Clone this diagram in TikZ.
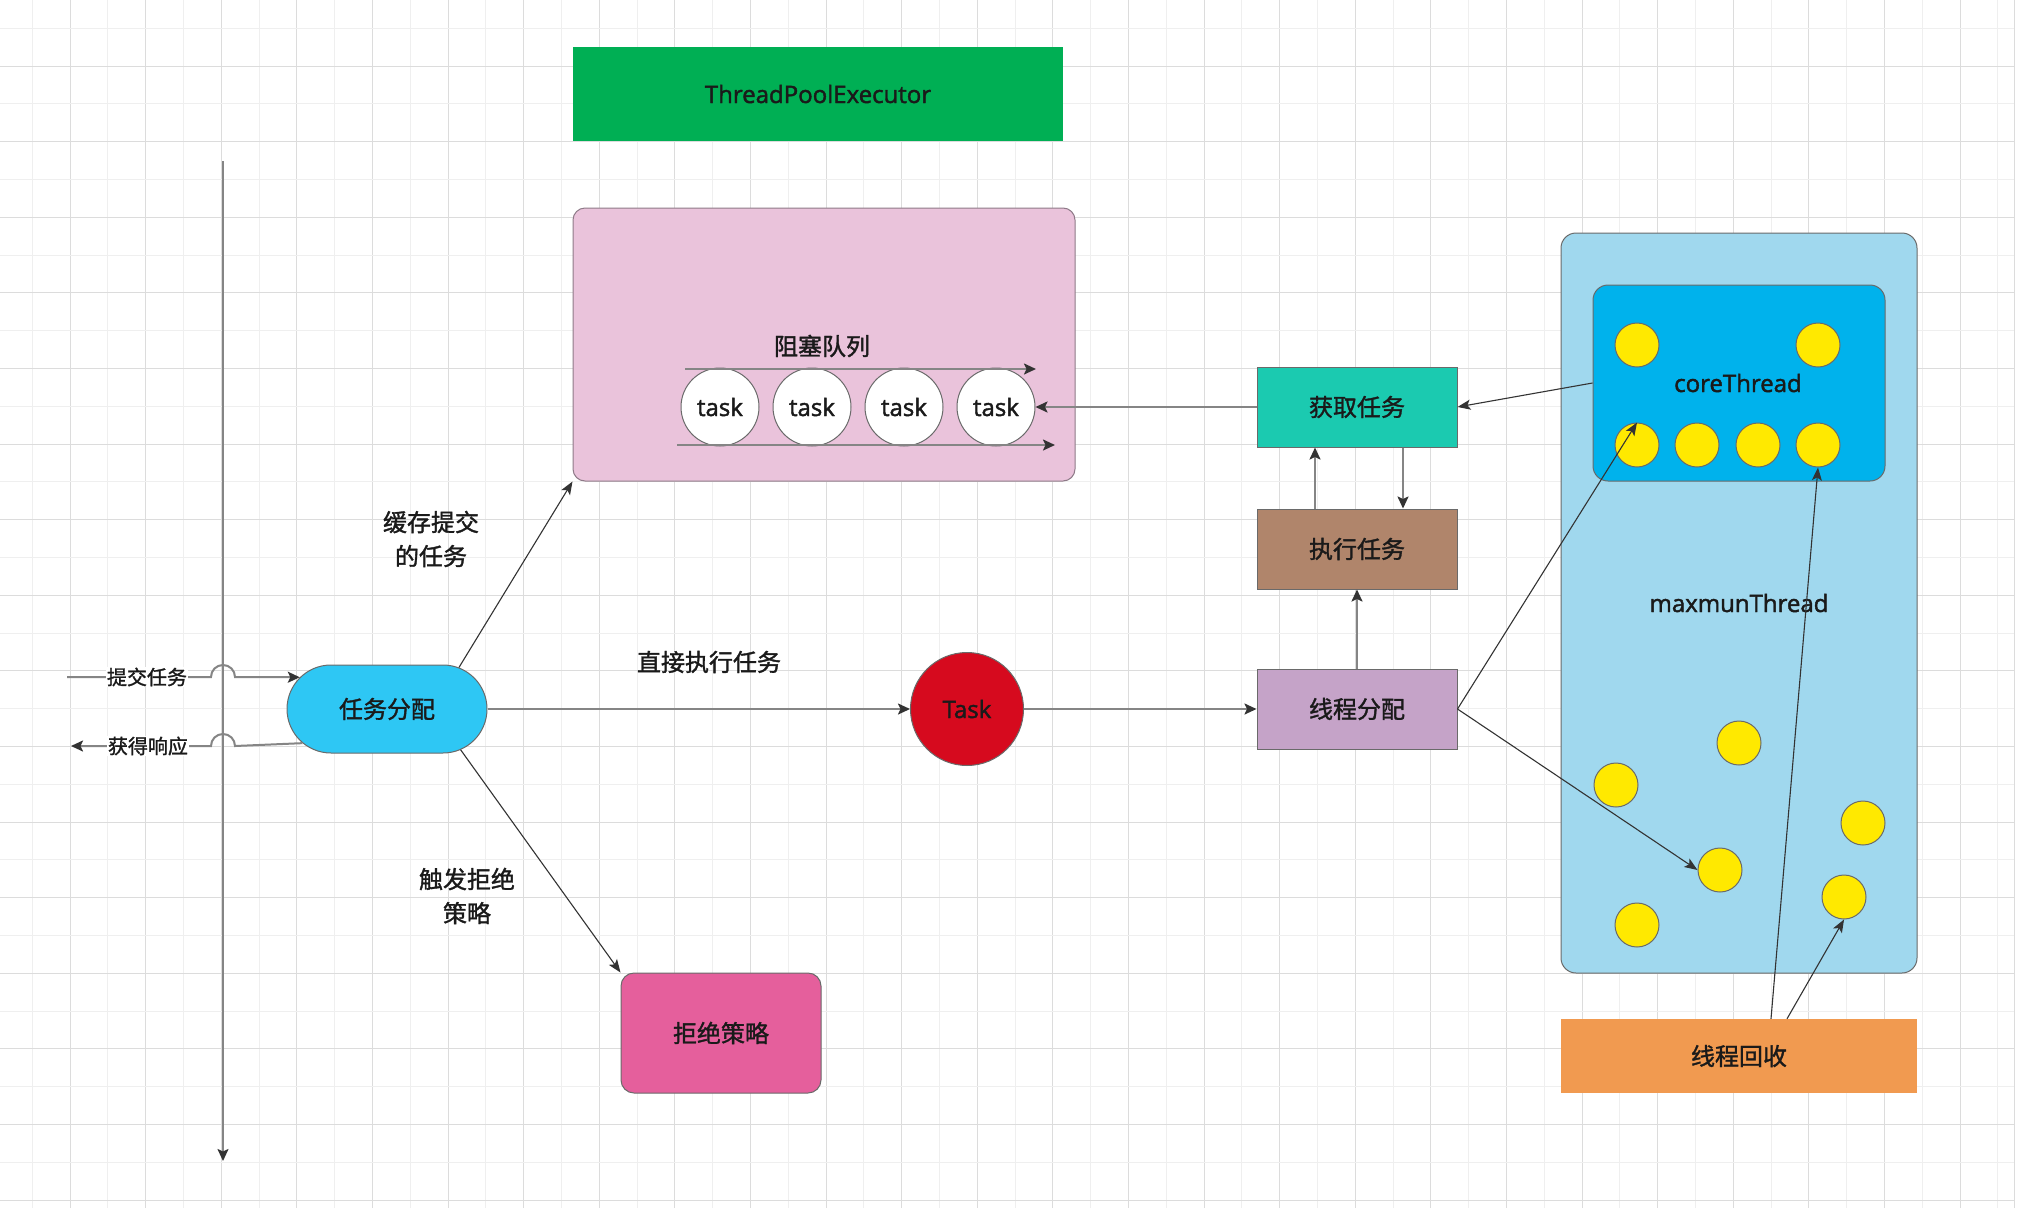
\documentclass[tikz,border=0pt]{standalone}
\usepackage{fontspec}
\setmainfont{Open Sans}[RawFeature={embolden=1.8}]
\newfontfamily\cjk{Noto Sans CJK SC}[RawFeature={embolden=1.4}]
\usetikzlibrary{arrows.meta,shapes.misc,calc}
\definecolor{txt}{HTML}{1A1A1A}
\definecolor{gridl}{HTML}{EFEFEF}
\definecolor{gridd}{HTML}{DCDCDC}
\definecolor{cgreen}{HTML}{00AF54}
\definecolor{cqueue}{HTML}{EAC3DB}
\definecolor{cqborder}{HTML}{8E7A88}
\definecolor{cteal}{HTML}{1BCAB0}
\definecolor{cbrown}{HTML}{B0856B}
\definecolor{clilac}{HTML}{C5A3C8}
\definecolor{cred}{HTML}{D60A1E}
\definecolor{cdist}{HTML}{2EC7F4}
\definecolor{creject}{HTML}{E55F9C}
\definecolor{cmax}{HTML}{A0D8EE}
\definecolor{ccore}{HTML}{00B2EC}
\definecolor{cyellow}{HTML}{FFE900}
\definecolor{corange}{HTML}{F19A50}
\definecolor{cborder}{HTML}{6A6A6A}
\definecolor{cgline}{HTML}{858585}
\definecolor{cdark}{HTML}{333333}
\begin{document}
\begin{tikzpicture}[x=1pt,y=-1pt,
  every node/.style={font=\fontsize{24}{30}\selectfont, text=txt},
  zh/.style={font=\cjk\fontsize{24}{30}\selectfont},
  zhs/.style={font=\cjk\fontsize{20}{24}\selectfont},
  box/.style={draw=cborder, line width=1pt, minimum width=200pt, minimum height=80pt, inner sep=0pt},
  ball/.style={circle, draw=cborder, line width=1pt, fill=cyellow, minimum size=44pt, inner sep=0pt},
  taskc/.style={circle, draw=cborder, line width=1pt, fill=white, minimum size=78pt, inner sep=0pt},
  garrow/.style={draw=cgline, line width=2pt, -{Stealth[length=12pt,width=11pt,inset=2.5pt,color=cdark]}},
  tarrow/.style={draw=cdark, line width=1.1pt, -{Stealth[length=13pt,width=10pt,inset=3pt]}},
  gline/.style={draw=cgline, line width=2pt}
]
\useasboundingbox (0,0) rectangle (2038,1208);
\fill[white] (0,0) rectangle (2038,1208);
% grid
\foreach \i in {0,...,52}{
  \pgfmathsetmacro\xx{32.2+37.8*\i}
  \ifodd\i \draw[gridd, line width=1pt] (\xx,0) -- (\xx,1208);
  \else \draw[gridl, line width=1pt] (\xx,0) -- (\xx,1208); \fi
}
\foreach \j in {0,...,31}{
  \pgfmathsetmacro\yy{28.2+37.8*\j}
  \ifodd\j \draw[gridd, line width=1pt] (0,\yy) -- (2014,\yy);
  \else \draw[gridl, line width=1pt] (0,\yy) -- (2014,\yy); \fi
}
\draw[gridd, line width=1pt] (2014,0) -- (2014,1208);

% title
\node[fill=cgreen, minimum width=490pt, minimum height=94pt, inner sep=0pt] (tpe) at (818,94) {ThreadPoolExecutor};

% blocking queue
\node[draw=cqborder, line width=1pt, fill=cqueue, rounded corners=12pt, minimum width=502pt, minimum height=273pt] (queue) at (824,344.5) {};
\node[zh] (qlabel) at (822,346) {阻塞队列};
\node[taskc] (t1) at (720,407) {task};
\node[taskc] (t2) at (812,407) {task};
\node[taskc] (t3) at (904,407) {task};
\node[taskc] (t4) at (996,407) {task};
\coordinate (qa1) at (685,369);
\coordinate (qa2) at (1036,369);
\coordinate (qb1) at (677,445);
\coordinate (qb2) at (1055,445);

% middle boxes
\node[box, zh, fill=cteal] (get) at (1357,407) {获取任务};
\node[box, zh, fill=cbrown] (exec) at (1357,549) {执行任务};
\node[box, zh, fill=clilac] (assign) at (1357,709) {线程分配};
\node[circle, draw=cborder, line width=1pt, fill=cred, minimum size=113pt, inner sep=0pt] (task) at (967,709) {Task};

% dispatcher
\node[rounded rectangle, draw=cborder, line width=1pt, fill=cdist, minimum width=200pt, minimum height=88pt, inner sep=0pt, zh] (dist) at (387,709) {任务分配};
\node[draw=cborder, line width=1pt, fill=creject, rounded corners=13pt, minimum width=200pt, minimum height=120pt, inner sep=0pt, zh] (reject) at (721,1033) {拒绝策略};

% thread area
\node[draw=cborder, line width=1pt, fill=cmax, rounded corners=15pt, minimum width=356pt, minimum height=740pt, inner sep=0pt] (maxbox) at (1739,603) {};
\node[draw=cborder, line width=1pt, fill=ccore, rounded corners=15pt, minimum width=292pt, minimum height=196pt, inner sep=0pt] (core) at (1739,383) {};
\node (corelabel) at (1738,383) {coreThread};
\node (maxlabel) at (1739,603) {maxmunThread};
\node[ball] (cc1) at (1637,345) {};
\node[ball] (cc2) at (1818,345) {};
\node[ball] (cb1) at (1637,445) {};
\node[ball] (cb2) at (1697,445) {};
\node[ball] (cb3) at (1758,445) {};
\node[ball] (cb4) at (1818,445) {};
\node[ball] (m1) at (1739,743) {};
\node[ball] (m2) at (1616,785) {};
\node[ball] (m3) at (1863,823) {};
\node[ball] (m4) at (1720,870) {};
\node[ball] (m5) at (1844,897) {};
\node[ball] (m6) at (1637,925) {};
\node[fill=corange, minimum width=356pt, minimum height=74pt, inner sep=0pt, zh] (recycle) at (1739,1056) {线程回收};

% axis
\coordinate (axtop) at (223,161);
\coordinate (axbot) at (223,1161);
\draw[garrow] (axtop) -- (axbot);

% submit / response
\coordinate (in1) at (67,677);
\coordinate (hop1) at (211,677);
\coordinate (hop2) at (235,746);
\coordinate (out1) at (71,746);
\draw[garrow] (in1) -- (hop1) arc[start angle=180, end angle=0, radius=12pt] -- (dist.160);
\draw[garrow] (dist.202) -- (hop2) arc[start angle=0, end angle=180, radius=12pt] -- (out1);
\node[zhs, fill=white, inner sep=1pt] (lsubmit) at (147,677) {提交任务};
\node[zhs, fill=white, inner sep=1pt] (lresp) at (148,746) {获得响应};

% labels
\node[zh, align=center, font=\cjk\fontsize{24}{34}\selectfont] (lcache) at (431,539) {缓存提交\\的任务};
\node[zh, align=center, font=\cjk\fontsize{24}{34}\selectfont] (lrej) at (467,896) {触发拒绝\\策略};
\node[zh] (ldirect) at (709,662) {直接执行任务};

% connectors
\draw[garrow] (qa1) -- (qa2);
\draw[garrow] (qb1) -- (qb2);
\draw[garrow] (get.west) -- (t4.east);
\draw[garrow] ([xshift=-42pt]exec.north) -- ([xshift=-42pt]get.south);
\draw[garrow] ([xshift=46pt]get.south) -- ([xshift=46pt]exec.north);
\draw[garrow] (assign.north) -- (exec.south);
\draw[garrow] (dist.east) -- (task.west);
\draw[garrow] (task.east) -- (assign.west);
\draw[tarrow] (dist.30) -- (queue.south west);
\draw[tarrow] (dist.-29) -- (reject.north west);
\draw[tarrow] (core.west) -- (get.east);
\draw[tarrow] (assign.east) -- (cb1.north);
\draw[tarrow] (assign.east) -- (m4.west);
\draw[tarrow] ([xshift=32pt]recycle.north) -- (cb4.south);
\draw[tarrow] ([xshift=48pt]recycle.north) -- (m5.south);
\end{tikzpicture}
\end{document}
